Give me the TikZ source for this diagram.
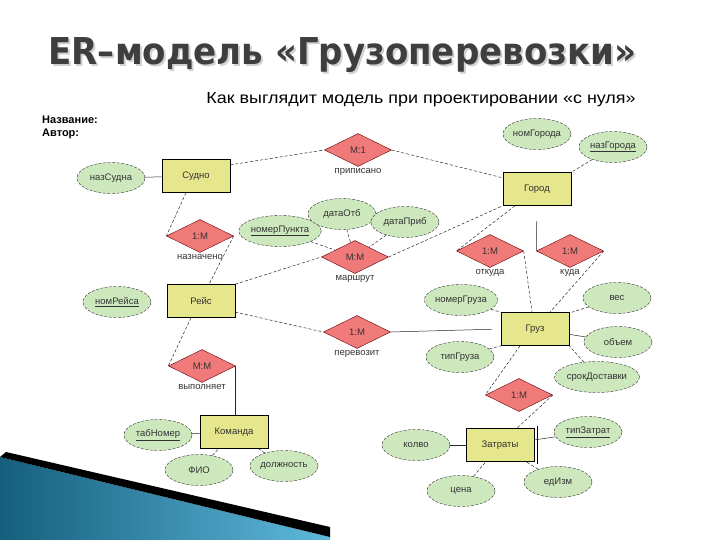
\documentclass[tikz,border=0pt]{standalone}
\usepackage{fontspec}
\setmainfont{Liberation Sans}
\newfontfamily\titlefont[FakeStretch=0.92]{DejaVu Sans}
\newfontfamily\subfont[FakeStretch=1.12]{Liberation Sans}
\usepackage{tikz}
\usetikzlibrary{positioning,shapes.geometric,backgrounds}
\definecolor{entfill}{RGB}{230,230,140}
\definecolor{relfill}{RGB}{240,122,122}
\definecolor{attrfill}{RGB}{206,232,190}
\definecolor{titlegray}{RGB}{62,62,62}
\definecolor{decodark}{RGB}{20,95,125}
\definecolor{decolight}{RGB}{95,185,220}

\begin{document}
\begin{tikzpicture}[x=1pt, y=-1pt,
  every node/.style={font=\fontsize{9.5}{11}\selectfont, text=black!80},
  entbox/.style={draw=black, line width=0.6pt, fill=entfill,
                 minimum width=68pt, minimum height=33pt, inner sep=1pt},
  relbox/.style={diamond, aspect=2, draw=red!40!black, line width=0.4pt,
                 fill=relfill, minimum width=67pt, minimum height=33pt, inner sep=0pt},
  attrbox/.style={ellipse, draw=black!80, dash pattern=on 3pt off 1.5pt,
                  fill=attrfill, minimum width=68pt, minimum height=31pt, inner sep=0pt},
  rellabel/.style={inner sep=1pt},
  lnk/.style={draw=black!85, line width=0.5pt},
  dlnk/.style={lnk, dash pattern=on 3pt off 2pt}]

\useasboundingbox (0,0) rectangle (720,540);

% headings
\node[anchor=base west, font=\titlefont\bfseries\fontsize{37}{40}\selectfont, text=titlegray] (title) at (45,65) {ER–модель «Грузоперевозки»};
\node[anchor=base, font=\subfont\fontsize{16}{17}\selectfont, text=black] (subtitle) at (421,104) {Как выглядит модель при проектировании «с нуля»};
\node[anchor=base west, font=\bfseries\fontsize{11}{12}\selectfont, text=black, inner sep=0pt] (name) at (42,124) {Название:};
\node[anchor=base west, font=\bfseries\fontsize{11}{12}\selectfont, text=black, inner sep=0pt] (author) at (42,137) {Автор:};

% attributes
\node[attrbox] (nazSudna)    at (111,178) {назСудна};
\node[attrbox] (nomGoroda)   at (537,134) {номГорода};
\node[attrbox] (nazGoroda)   at (613,147) {\underline{назГорода}};
\node[attrbox] (nomerPunkta) at (280,231) {\underline{номерПункта}};
\node[attrbox] (dataOtb)     at (342,214) {датаОтб};
\node[attrbox] (dataPrib)    at (405,222) {датаПриб};
\node[attrbox] (nomReisa)    at (117,302) {\underline{номРейса}};
\node[attrbox] (nomerGruza)  at (461,300) {номерГруза};
\node[attrbox] (ves)         at (617,298) {вес};
\node[attrbox] (obem)        at (618,342) {объем};
\node[attrbox] (tipGruza)    at (460,357) {типГруза};
\node[attrbox] (srokDost)    at (597,377) {срокДоставки};
\node[attrbox] (tabNomer)    at (158,435) {\underline{табНомер}};
\node[attrbox] (fio)         at (199,470) {ФИО};
\node[attrbox] (dolzhnost)   at (284,466) {должность};
\node[attrbox] (kolvo)       at (416,445) {колво};
\node[attrbox] (tipZatrat)   at (588,432) {\underline{типЗатрат}};
\node[attrbox] (cena)        at (461,491) {цена};
\node[attrbox] (edIzm)       at (558,482) {едИзм};

% entities
\node[entbox] (sudno)   at (196,176) {Судно};
\node[entbox] (gorod)   at (537,189) {Город};
\node[entbox] (reis)    at (201,301) {Рейс};
\node[entbox] (gruz)    at (535,329) {Груз};
\node[entbox] (komanda) at (234,432) {Команда};
\node[entbox] (zatraty) at (500,445) {Затраты};

% relationships
\node[relbox] (pripisano)  at (358,150) {М:1};
\node[rellabel, below=0pt of pripisano]  (pripisanoL)  {приписано};
\node[relbox] (naznacheno) at (200,236) {1:М};
\node[rellabel, below=0pt of naznacheno] (naznachenoL) {назначено};
\node[relbox] (marshrut)   at (355,257) {М:М};
\node[rellabel, below=0pt of marshrut]   (marshrutL)   {маршрут};
\node[relbox] (otkuda)     at (490,251) {1:М};
\node[rellabel, below=0pt of otkuda]     (otkudaL)     {откуда};
\node[relbox] (kuda)       at (570,251) {1:М};
\node[rellabel, below=0pt of kuda]       (kudaL)       {куда};
\node[relbox] (perevozit)  at (357,332) {1:М};
\node[rellabel, below=0pt of perevozit]  (perevozitL)  {перевозит};
\node[relbox] (vypolnyaet) at (202,366) {М:М};
\node[rellabel, below=0pt of vypolnyaet] (vypolnyaetL) {выполняет};
\node[relbox] (zatrRel)    at (519,395) {1:М};

\begin{scope}[on background layer]
% title shadow
\node[anchor=base west, font=\titlefont\bfseries\fontsize{37}{40}\selectfont, text=black!18] at (47,67) {ER–модель «Грузоперевозки»};
% corner decoration
\shade[left color=decodark, right color=decolight] (0,457) -- (330,537) -- (330,540) -- (0,540) -- cycle;
\fill[black] (6,452) -- (330,527) -- (330,537) -- (0,457) -- cycle;

% connectors
\draw[lnk]  (nazSudna) -- (sudno);
\draw[dlnk] (sudno.18) -- (pripisano.west);
\draw[dlnk] (pripisano.east) -- (gorod.162);
\draw[dlnk] (nazGoroda) -- (gorod.north east);
\draw[dlnk] ([xshift=-10pt]sudno.south) -- (naznacheno.west);
\draw[dlnk] (naznacheno.east) -- ([xshift=8pt]reis.north);
\draw[dlnk] (reis.north east) -- (marshrut.west);
\draw[dlnk] (nomerPunkta) -- (marshrut);
\draw[dlnk] (dataOtb) -- (marshrut);
\draw[dlnk] (dataPrib) -- (marshrut);
\draw[dlnk] (marshrut.east) -- (gorod.south west);
\draw[dlnk] ([xshift=-22pt]gorod.south) -- (otkuda.west);
\draw[lnk, shorten >=15pt] (kuda.west) -- (gorod.south);
\draw[dlnk] (otkuda.east) -- ([xshift=-3pt]gruz.north);
\draw[dlnk] (kuda.east) -- ([xshift=15pt]gruz.north);
\draw[dlnk] (nomerGruza) -- (gruz.north west);
\draw[dlnk] (ves) -- (gruz.25);
\draw[lnk]  (obem) -- (gruz);
\draw[dlnk] (srokDost) -- (gruz.south east);
\draw[dlnk] (tipGruza) -- (gruz.south west);
\draw[dlnk] (reis.-18) -- (perevozit.west);
\draw[lnk, shorten >=9pt] (perevozit.east) -- (gruz.west);
\draw[dlnk] ([xshift=-10pt]reis.south) -- (vypolnyaet.west);
\draw[lnk]  (vypolnyaet.east) -- (vypolnyaet.east |- komanda.north);
\draw[lnk]  (tabNomer) -- (komanda);
\draw[dlnk] (fio) -- (komanda);
\draw[dlnk] (dolzhnost) -- (komanda);
\draw[dlnk] ([xshift=-15pt]gruz.south) -- (zatrRel.west);
\draw[dlnk] (zatrRel.east) -- ([xshift=17pt]zatraty.north);
\draw[lnk]  (kolvo) -- (zatraty);
\draw[lnk]  (tipZatrat) -- (zatraty);
\draw[dlnk] (cena) -- (zatraty);
\draw[dlnk] (edIzm) -- (zatraty);
\end{scope}

% double border of the weak entity
\draw[line width=0.6pt] ([xshift=3pt,yshift=2pt]zatraty.north east) -- ([xshift=3pt,yshift=-2pt]zatraty.south east);
\end{tikzpicture}
\end{document}
